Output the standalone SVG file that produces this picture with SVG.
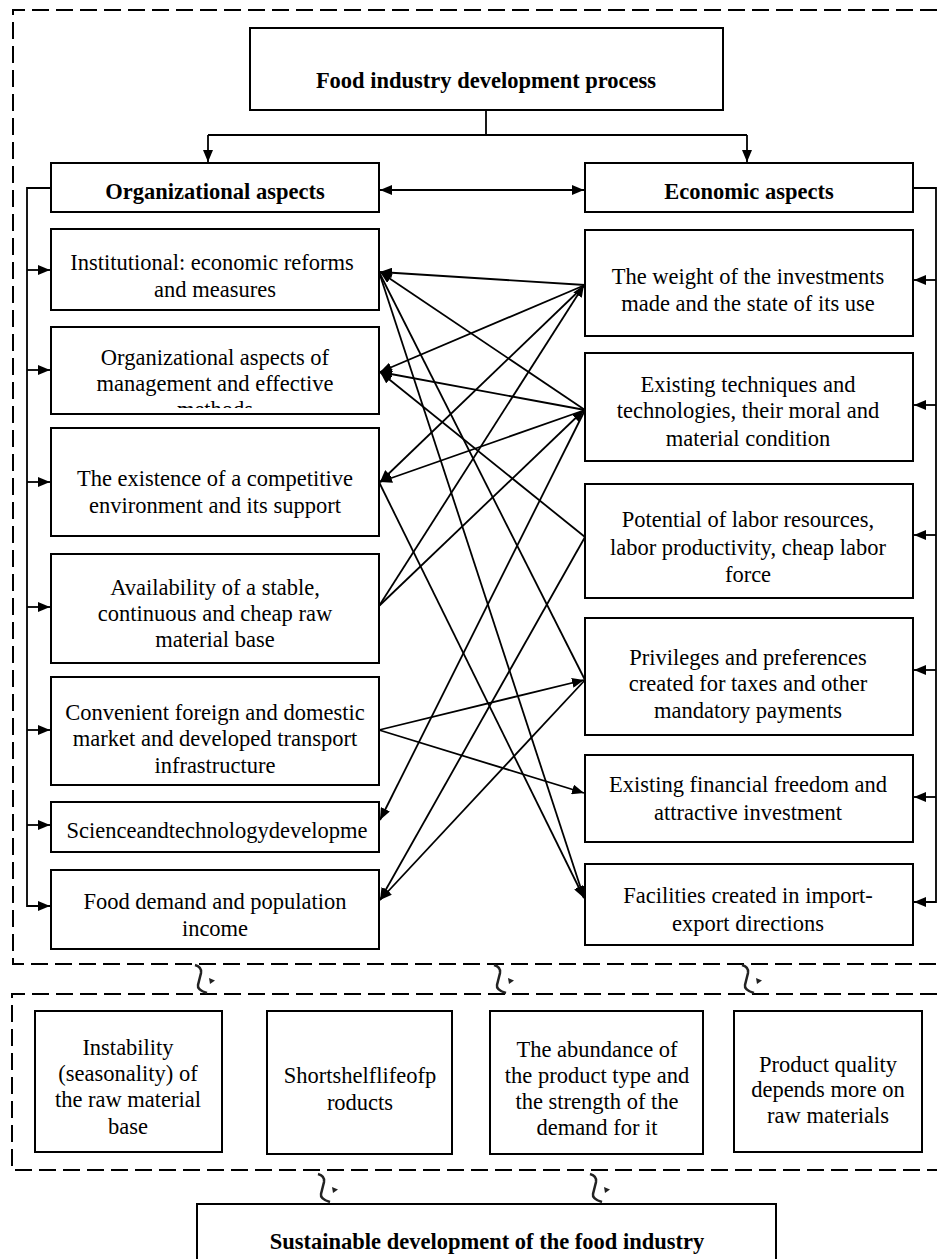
<svg xmlns="http://www.w3.org/2000/svg" width="937" height="1259" viewBox="0 0 937 1259">
<style>
.box{fill:#fff;stroke:#000;stroke-width:2}
.dash{fill:none;stroke:#000;stroke-width:2;stroke-dasharray:17 7}
.t{font-family:"Liberation Serif","Times New Roman",serif;font-size:22.5px;fill:#000;text-anchor:middle}
.b{font-weight:bold}
.c{fill:none;stroke:#000;stroke-width:1.8}
.sym{fill:none;stroke:#222;stroke-width:2.5}
</style>
<defs>
<marker id="ah" viewBox="0 0 12 10" refX="12" refY="5" markerWidth="12" markerHeight="10" orient="auto-start-reverse" markerUnits="userSpaceOnUse">
<path d="M0,0 L12,5 L0,10 z" fill="#000"/>
</marker>
<clipPath id="clipL2"><rect x="52" y="328" width="326" height="80"/></clipPath>
<g id="symbol">
<path class="sym" d="M-6,0 Q1,2 0,8 L-3,20 Q-4,25 6,28"/>
<path d="M8,13 L14,15.5 L9,19 z" fill="#222"/>
</g>
</defs>

<!-- dashed frames -->
<path class="dash" d="M937,10 H13 V964 H937"/>
<path class="dash" d="M937,994 H12 V1170 H937"/>

<!-- connectors -->
<g id="connectors">
<path class="c" d="M486,110 V135 M208,135 H747"/>
<line class="c" x1="208" y1="135" x2="208" y2="162" marker-end="url(#ah)"/>
<line class="c" x1="747" y1="135" x2="747" y2="162" marker-end="url(#ah)"/>
<line class="c" x1="380" y1="190" x2="584" y2="190" marker-start="url(#ah)" marker-end="url(#ah)"/>
<!-- left feedback -->
<path class="c" d="M51,188 H27 V906 H50" marker-end="url(#ah)"/>
<line class="c" x1="27" y1="270" x2="50" y2="270" marker-end="url(#ah)"/>
<line class="c" x1="27" y1="370" x2="50" y2="370" marker-end="url(#ah)"/>
<line class="c" x1="27" y1="482" x2="50" y2="482" marker-end="url(#ah)"/>
<line class="c" x1="27" y1="607" x2="50" y2="607" marker-end="url(#ah)"/>
<line class="c" x1="27" y1="730" x2="50" y2="730" marker-end="url(#ah)"/>
<line class="c" x1="27" y1="825" x2="50" y2="825" marker-end="url(#ah)"/>
<!-- right feedback -->
<path class="c" d="M913,188 H936 V902 H914" marker-end="url(#ah)"/>
<line class="c" x1="936" y1="280" x2="914" y2="280" marker-end="url(#ah)"/>
<line class="c" x1="936" y1="405" x2="914" y2="405" marker-end="url(#ah)"/>
<line class="c" x1="936" y1="535" x2="914" y2="535" marker-end="url(#ah)"/>
<line class="c" x1="936" y1="670" x2="914" y2="670" marker-end="url(#ah)"/>
<line class="c" x1="936" y1="797" x2="914" y2="797" marker-end="url(#ah)"/>
<!-- cross links -->
<line class="c" x1="585" y1="285" x2="380" y2="272" marker-end="url(#ah)"/>
<line class="c" x1="585" y1="285" x2="380" y2="372" marker-end="url(#ah)"/>
<line class="c" x1="585" y1="285" x2="380" y2="482" marker-end="url(#ah)"/>
<line class="c" x1="379" y1="606" x2="584" y2="285" marker-end="url(#ah)"/>
<line class="c" x1="585" y1="410" x2="380" y2="272" marker-end="url(#ah)"/>
<line class="c" x1="585" y1="410" x2="380" y2="372" marker-end="url(#ah)"/>
<line class="c" x1="585" y1="410" x2="380" y2="482" marker-end="url(#ah)"/>
<line class="c" x1="379" y1="606" x2="584" y2="410" marker-end="url(#ah)"/>
<line class="c" x1="585" y1="410" x2="380" y2="820" marker-end="url(#ah)"/>
<line class="c" x1="585" y1="537" x2="380" y2="372" marker-end="url(#ah)"/>
<line class="c" x1="585" y1="537" x2="380" y2="900" marker-end="url(#ah)"/>
<line class="c" x1="379" y1="272" x2="585" y2="680"/>
<line class="c" x1="379" y1="730" x2="584" y2="680" marker-end="url(#ah)"/>
<line class="c" x1="585" y1="680" x2="380" y2="900" marker-end="url(#ah)"/>
<line class="c" x1="379" y1="730" x2="584" y2="793" marker-end="url(#ah)"/>
<line class="c" x1="379" y1="272" x2="584" y2="898" marker-end="url(#ah)"/>
<line class="c" x1="379" y1="482" x2="584" y2="898" marker-end="url(#ah)"/>
<!-- curved link symbols -->
<use href="#symbol" x="201" y="965"/>
<use href="#symbol" x="500" y="965"/>
<use href="#symbol" x="748" y="965"/>
<use href="#symbol" x="324" y="1174"/>
<use href="#symbol" x="596" y="1174"/>
</g>

<g id="n-top"><rect class="box" x="250" y="28" width="473" height="82"/>
<text class="t b" x="486" y="88">Food industry development process</text></g>
<g id="n-org"><rect class="box" x="51" y="163" width="328" height="49"/>
<text class="t b" x="215" y="199">Organizational aspects</text></g>
<g id="n-eco"><rect class="box" x="585" y="163" width="328" height="49"/>
<text class="t b" x="749" y="199">Economic aspects</text></g>

<g id="n-l1"><rect class="box" x="51" y="229" width="328" height="81"/>
<text class="t" x="212" y="270">Institutional: economic reforms</text>
<text class="t" x="215" y="297">and measures</text></g>
<g id="n-l2"><rect class="box" x="51" y="327" width="328" height="87"/>
<g clip-path="url(#clipL2)">
<text class="t" x="215" y="365">Organizational aspects of</text>
<text class="t" x="215" y="391">management and effective</text>
<text class="t" x="215" y="417">methods</text></g></g>
<g id="n-l3"><rect class="box" x="51" y="428" width="328" height="108"/>
<text class="t" x="215" y="486">The existence of a competitive</text>
<text class="t" x="215" y="513">environment and its support</text></g>
<g id="n-l4"><rect class="box" x="51" y="554" width="328" height="109"/>
<text class="t" x="215" y="595">Availability of a stable,</text>
<text class="t" x="215" y="621">continuous and cheap raw</text>
<text class="t" x="215" y="647">material base</text></g>
<g id="n-l5"><rect class="box" x="51" y="677" width="328" height="108"/>
<text class="t" x="215" y="720">Convenient foreign and domestic</text>
<text class="t" x="215" y="746">market and developed transport</text>
<text class="t" x="215" y="773">infrastructure</text></g>
<g id="n-l6"><rect class="box" x="51" y="802" width="328" height="50"/>
<text class="t" x="217" y="838">Scienceandtechnologydevelopme</text></g>
<g id="n-l7"><rect class="box" x="51" y="870" width="328" height="79"/>
<text class="t" x="215" y="909">Food demand and population</text>
<text class="t" x="215" y="936">income</text></g>

<g id="n-r1"><rect class="box" x="585" y="230" width="328" height="106"/>
<text class="t" x="748" y="284">The weight of the investments</text>
<text class="t" x="748" y="311">made and the state of its use</text></g>
<g id="n-r2"><rect class="box" x="585" y="353" width="328" height="108"/>
<text class="t" x="748" y="392">Existing techniques and</text>
<text class="t" x="748" y="418">technologies, their moral and</text>
<text class="t" x="748" y="446">material condition</text></g>
<g id="n-r3"><rect class="box" x="585" y="484" width="328" height="114"/>
<text class="t" x="748" y="527">Potential of labor resources,</text>
<text class="t" x="748" y="555">labor productivity, cheap labor</text>
<text class="t" x="748" y="582">force</text></g>
<g id="n-r4"><rect class="box" x="585" y="618" width="328" height="117"/>
<text class="t" x="748" y="665">Privileges and preferences</text>
<text class="t" x="748" y="691">created for taxes and other</text>
<text class="t" x="748" y="718">mandatory payments</text></g>
<g id="n-r5"><rect class="box" x="585" y="755" width="328" height="87"/>
<text class="t" x="748" y="792">Existing financial freedom and</text>
<text class="t" x="748" y="820">attractive investment</text></g>
<g id="n-r6"><rect class="box" x="585" y="864" width="328" height="81"/>
<text class="t" x="748" y="903">Facilities created in import-</text>
<text class="t" x="748" y="931">export directions</text></g>

<g id="n-b1"><rect class="box" x="35" y="1011" width="187" height="141"/>
<text class="t" x="128" y="1055">Instability</text>
<text class="t" x="128" y="1081">(seasonality) of</text>
<text class="t" x="128" y="1107">the raw material</text>
<text class="t" x="128" y="1134">base</text></g>
<g id="n-b2"><rect class="box" x="267" y="1011" width="185" height="143"/>
<text class="t" x="360" y="1083">Shortshelflifeofp</text>
<text class="t" x="360" y="1110">roducts</text></g>
<g id="n-b3"><rect class="box" x="490" y="1011" width="213" height="143"/>
<text class="t" x="597" y="1057">The abundance of</text>
<text class="t" x="597" y="1083">the product type and</text>
<text class="t" x="597" y="1109">the strength of the</text>
<text class="t" x="597" y="1135">demand for it</text></g>
<g id="n-b4"><rect class="box" x="734" y="1011" width="188" height="141"/>
<text class="t" x="828" y="1072">Product quality</text>
<text class="t" x="828" y="1097">depends more on</text>
<text class="t" x="828" y="1123">raw materials</text></g>
<g id="n-final"><rect class="box" x="197" y="1204" width="579" height="90"/>
<text class="t b" x="487" y="1249">Sustainable development of the food industry</text></g>
</svg>
